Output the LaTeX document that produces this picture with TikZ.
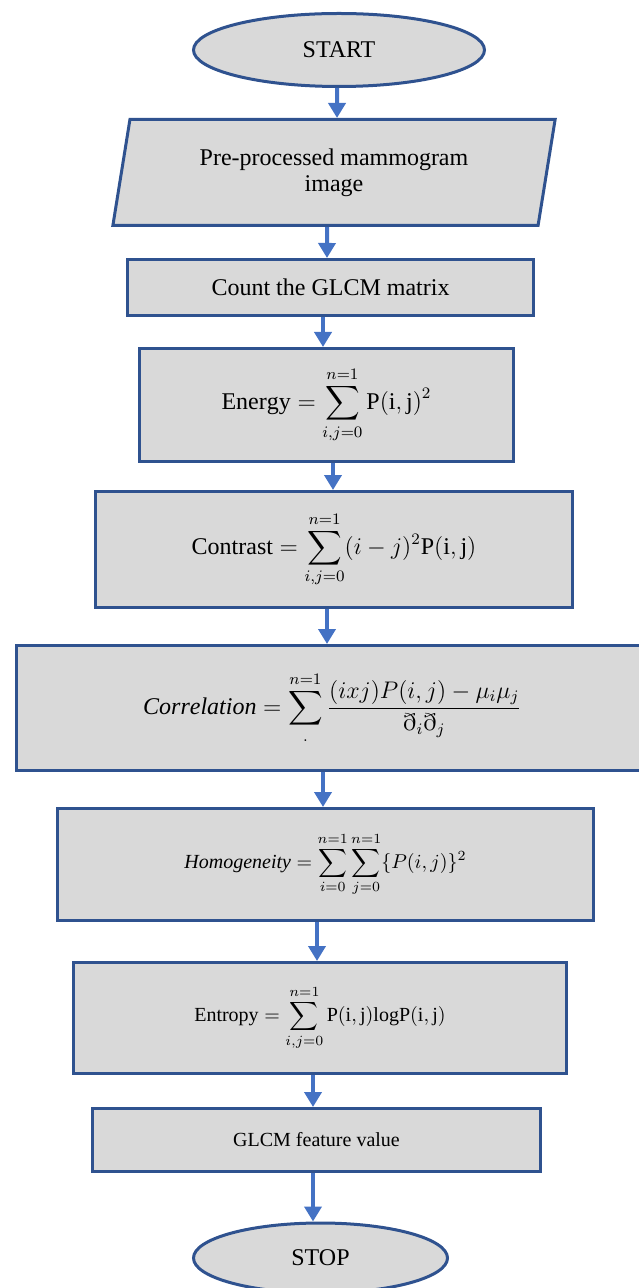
\documentclass[tikz,border=0pt]{standalone}
\usepackage{amsmath}
\usepackage{amssymb}
\usepackage{fontspec}
\setmainfont{Liberation Serif}
\usetikzlibrary{arrows.meta,calc,shapes.geometric}

\definecolor{boxline}{RGB}{47,82,143}
\definecolor{boxfill}{RGB}{217,217,217}
\definecolor{flowline}{RGB}{68,114,196}

\begin{document}
\begin{tikzpicture}[x=0.5pt,y=-0.5pt]
	\tikzstyle{proc}=[draw=boxline, fill=boxfill, line width=1.5pt, inner sep=1pt, align=center]
	\tikzstyle{term}=[proc, ellipse]
	\tikzstyle{flow}=[draw=flowline, line width=2pt, -{Triangle[width=8.5pt,length=7.5pt]}]

	\useasboundingbox (0,0) rectangle (638,1288);

	\node (start) [term, minimum width=145.5pt, minimum height=36.5pt, font=\large] at (339,50) {START};
	\node (input) [proc, trapezium, trapezium left angle=77.6, trapezium right angle=102.4, trapezium stretches=true, minimum width=221.5pt, minimum height=53pt, font=\large] at (334,172.5) {Pre-processed mammogram\\[-1pt] image};
	\node (count) [proc, minimum width=203pt, minimum height=28pt, font=\large] at (330.5,287.5) {Count the GLCM matrix};

	\node (energy) [proc, minimum width=187pt, minimum height=56.5pt, font=\large] at (326.5,405) {$\displaystyle \mathrm{Energy}=\sum_{i,j=0}^{n=1}\mathrm{P(i,j)}^2$};
	\node (contrast) [proc, minimum width=238.5pt, minimum height=58pt, font=\large] at (334,549.5) {$\displaystyle \mathrm{Contrast}=\sum_{i,j=0}^{n=1}(i-j)^2\mathrm{P(i,j)}$};
	\node (corr) [proc, minimum width=316pt, minimum height=62.5pt, font=\large] at (332.5,708) {$\displaystyle \mathit{Correlation}=\sum_{.}^{n=1}\frac{(ixj)P(i,j)-\mu_i\mu_j}{\eth_i\eth_j}$};
	\node (homog) [proc, minimum width=268pt, minimum height=56pt] at (325.5,864.5) {$\displaystyle \mathit{Homogeneity}=\sum_{i=0}^{n=1}\sum_{j=0}^{n=1}\{P(i,j)\}^2$};
	\node (entropy) [proc, minimum width=246.5pt, minimum height=55.5pt] at (320,1018) {$\displaystyle \mathrm{Entropy}=\sum_{i,j=0}^{n=1}\mathrm{P(i,j)logP(i,j)}$};

	\node (feature) [proc, minimum width=224pt, minimum height=31.5pt] at (316.5,1140) {GLCM feature value};
	\node (stop) [term, minimum width=127pt, minimum height=35pt, font=\large] at (320.5,1258) {STOP};

	\draw [flow] ($(start.south)+(-2,0)$) -- ($(input.north)+(3,0)$);
	\draw [flow] ($(input.south)+(-7,0)$) -- ($(count.north)+(-3.5,0)$);
	\draw [flow] ($(count.south)+(-7.5,0)$) -- ($(energy.north)+(-3.5,0)$);
	\draw [flow] ($(energy.south)+(6.5,0)$) -- ($(contrast.north)+(-1,0)$);
	\draw [flow] ($(contrast.south)+(-7,0)$) -- ($(corr.north)+(-5.5,0)$);
	\draw [flow] ($(corr.south)+(-9.5,0)$) -- ($(homog.north)+(-2.5,0)$);
	\draw [flow] ($(homog.south)+(-8.5,0)$) -- ($(entropy.north)+(-3,0)$);
	\draw [flow] ($(entropy.south)+(-7,0)$) -- ($(feature.north)+(-3.5,0)$);
	\draw [flow] ($(feature.south)+(-3.5,0)$) -- ($(stop.north)+(-7.5,0)$);
\end{tikzpicture}
\end{document}
